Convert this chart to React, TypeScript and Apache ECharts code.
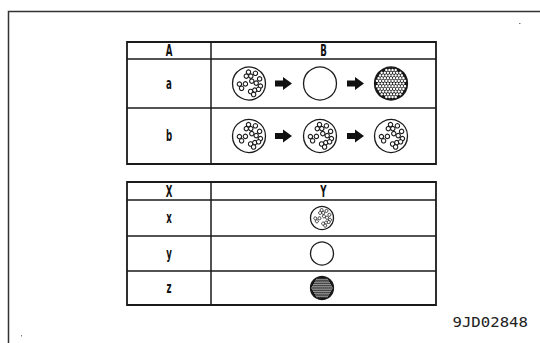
import { useEffect, useRef } from "react";
import * as echarts from "echarts";

// ---- content ----
const table1Headers = ["A", "B"];
const table1Rows = ["a", "b"];
const table1Sequences = [
  ["speckled", "clear", "dense"],
  ["speckled", "speckled", "speckled"],
];
const table2Headers = ["X", "Y"];
const table2Rows = ["x", "y", "z"];
const table2Symbols = ["speckled", "clear", "dense"];
const figureCode = "9JD02848";

// speck pattern (relative units for a circle of radius 16.5)
const SPECKS = [
  [-2.7, -7.4], [1.8, -7.4], [-0.5, -11.4], [6.4, -10.2], [10.6, -4.6],
  [2.8, -2.4], [7.2, -0.4], [-3.6, 0.4], [-9.6, 0.6], [-7.4, 4.8],
  [11.4, 2.6], [1.6, 8.0], [5.8, 6.6], [9.6, 5.8], [4.6, 11.0],
];

export default function App() {
  const ref = useRef<HTMLDivElement>(null);
  useEffect(() => {
    const chart = echarts.init(ref.current!, null, { renderer: "svg" });
    const els: any[] = [];
    const LINE = "#1a1a1a";
    const FONT = "DejaVu Sans Condensed";

    const label = (text: string, x: number, y: number) => ({
      type: "text", x, y, scaleX: 0.6, silent: true,
      style: {
        text, fontSize: 16, fontFamily: FONT, fontWeight: "bold", fill: "#111",
        align: "center", verticalAlign: "middle",
        textAlign: "center", textVerticalAlign: "middle",
      },
    });

    const circle = (cx: number, cy: number, r: number, fill: string, stroke: string, lw: number) => ({
      type: "circle", silent: true,
      shape: { cx, cy, r },
      style: { fill, stroke, lineWidth: lw },
    });

    const symbol = (kind: string, cx: number, cy: number, R: number) => {
      const s = R / 16.5;
      if (kind === "clear") {
        els.push(circle(cx, cy, R, "#fff", LINE, 1.3));
      } else if (kind === "speckled") {
        els.push(circle(cx, cy, R, "#fff", LINE, 1.3));
        SPECKS.forEach(([dx, dy]) => {
          els.push(circle(cx + dx * s, cy + dy * s, 2.2 * s, "#fff", LINE, s > 0.8 ? 1.1 : 0.85));
        });
      } else {
        els.push(circle(cx, cy, R, "#151515", LINE, 1.3));
        const big = s > 0.8;
        const d = big ? 3.1 : 2.0;
        const r = big ? 1.25 : 0.6;
        const n = Math.ceil(R / d) + 1;
        for (let j = -n; j <= n; j++) {
          for (let i = -n; i <= n; i++) {
            const x = i * d + (Math.abs(j) % 2 ? d / 2 : 0);
            const y = j * d * 0.866;
            if (Math.hypot(x, y) + r < R - 0.6) {
              els.push(circle(cx + x, cy + y, r, "#fff", "none", 0));
            }
          }
        }
      }
    };

    const arrow = (x0: number, cy: number) => {
      els.push({
        type: "polygon", silent: true,
        shape: {
          points: [
            [x0, cy - 3], [x0 + 8, cy - 3], [x0 + 8, cy - 6.5], [x0 + 17, cy],
            [x0 + 8, cy + 6.5], [x0 + 8, cy + 3], [x0, cy + 3],
          ],
        },
        style: { fill: "#111" },
      });
    };

    const drawTable = (
      left: number, right: number, divX: number, ys: number[],
      headers: string[], rows: string[],
      cell: (i: number, cy: number) => void
    ) => {
      const top = ys[0];
      const bottom = ys[ys.length - 1];
      for (let k = 1; k < ys.length - 1; k++) {
        els.push({
          type: "line", silent: true,
          shape: { x1: left, y1: ys[k], x2: right, y2: ys[k] },
          style: { stroke: LINE, lineWidth: 1.5 },
        });
      }
      els.push({
        type: "line", silent: true,
        shape: { x1: divX, y1: top, x2: divX, y2: bottom },
        style: { stroke: LINE, lineWidth: 1.5 },
      });
      els.push({
        type: "rect", silent: true,
        shape: { x: left, y: top, width: right - left, height: bottom - top },
        style: { fill: "none", stroke: LINE, lineWidth: 1.8 },
      });
      const cA = (left + divX) / 2;
      const cB = (divX + right) / 2;
      els.push(label(headers[0], cA, (ys[0] + ys[1]) / 2 + 0.5));
      els.push(label(headers[1], cB, (ys[0] + ys[1]) / 2 + 0.5));
      rows.forEach((r, i) => {
        const cy = (ys[i + 1] + ys[i + 2]) / 2;
        els.push(label(r, cA, cy));
        cell(i, cy);
      });
    };

    // outer frame
    els.push({
      type: "polyline", silent: true,
      shape: { points: [[8.5, 343], [8.5, 11.5], [541, 11.5]] },
      style: { stroke: "#333", lineWidth: 1.5, fill: "none" },
    });
    els.push({ type: "rect", silent: true, shape: { x: 519, y: 23, width: 1.5, height: 1 }, style: { fill: "#777" } });
    els.push({ type: "rect", silent: true, shape: { x: 21, y: 335, width: 1, height: 1.5 }, style: { fill: "#777" } });

    // table 1
    const seqX = [249, 320, 391];
    const arrowX = [275, 347];
    drawTable(127, 436, 211, [42, 59, 108, 164], table1Headers, table1Rows, (i, cy) => {
      table1Sequences[i].forEach((kind, k) => symbol(kind, seqX[k], cy, 16.5));
      arrowX.forEach((ax) => arrow(ax, cy));
    });

    // table 2
    drawTable(127, 436, 211, [182, 200, 236, 271, 305], table2Headers, table2Rows, (i, cy) => {
      symbol(table2Symbols[i], 322, cy, 11.5);
    });

    // code
    els.push({
      type: "text", x: 528, y: 322, scaleX: 1.12, silent: true,
      style: {
        text: figureCode, fontSize: 14, fontFamily: "DejaVu Sans Mono", fill: "#222",
        align: "right", verticalAlign: "middle",
        textAlign: "right", textVerticalAlign: "middle",
      },
    });

    chart.setOption({ animation: false, graphic: { elements: els } });
    return () => chart.dispose();
  }, []);
  return (
    <div
      ref={ref}
      style={{ position: "fixed", left: 0, top: 0, width: 540, height: 343, background: "#fff" }}
    />
  );
}
